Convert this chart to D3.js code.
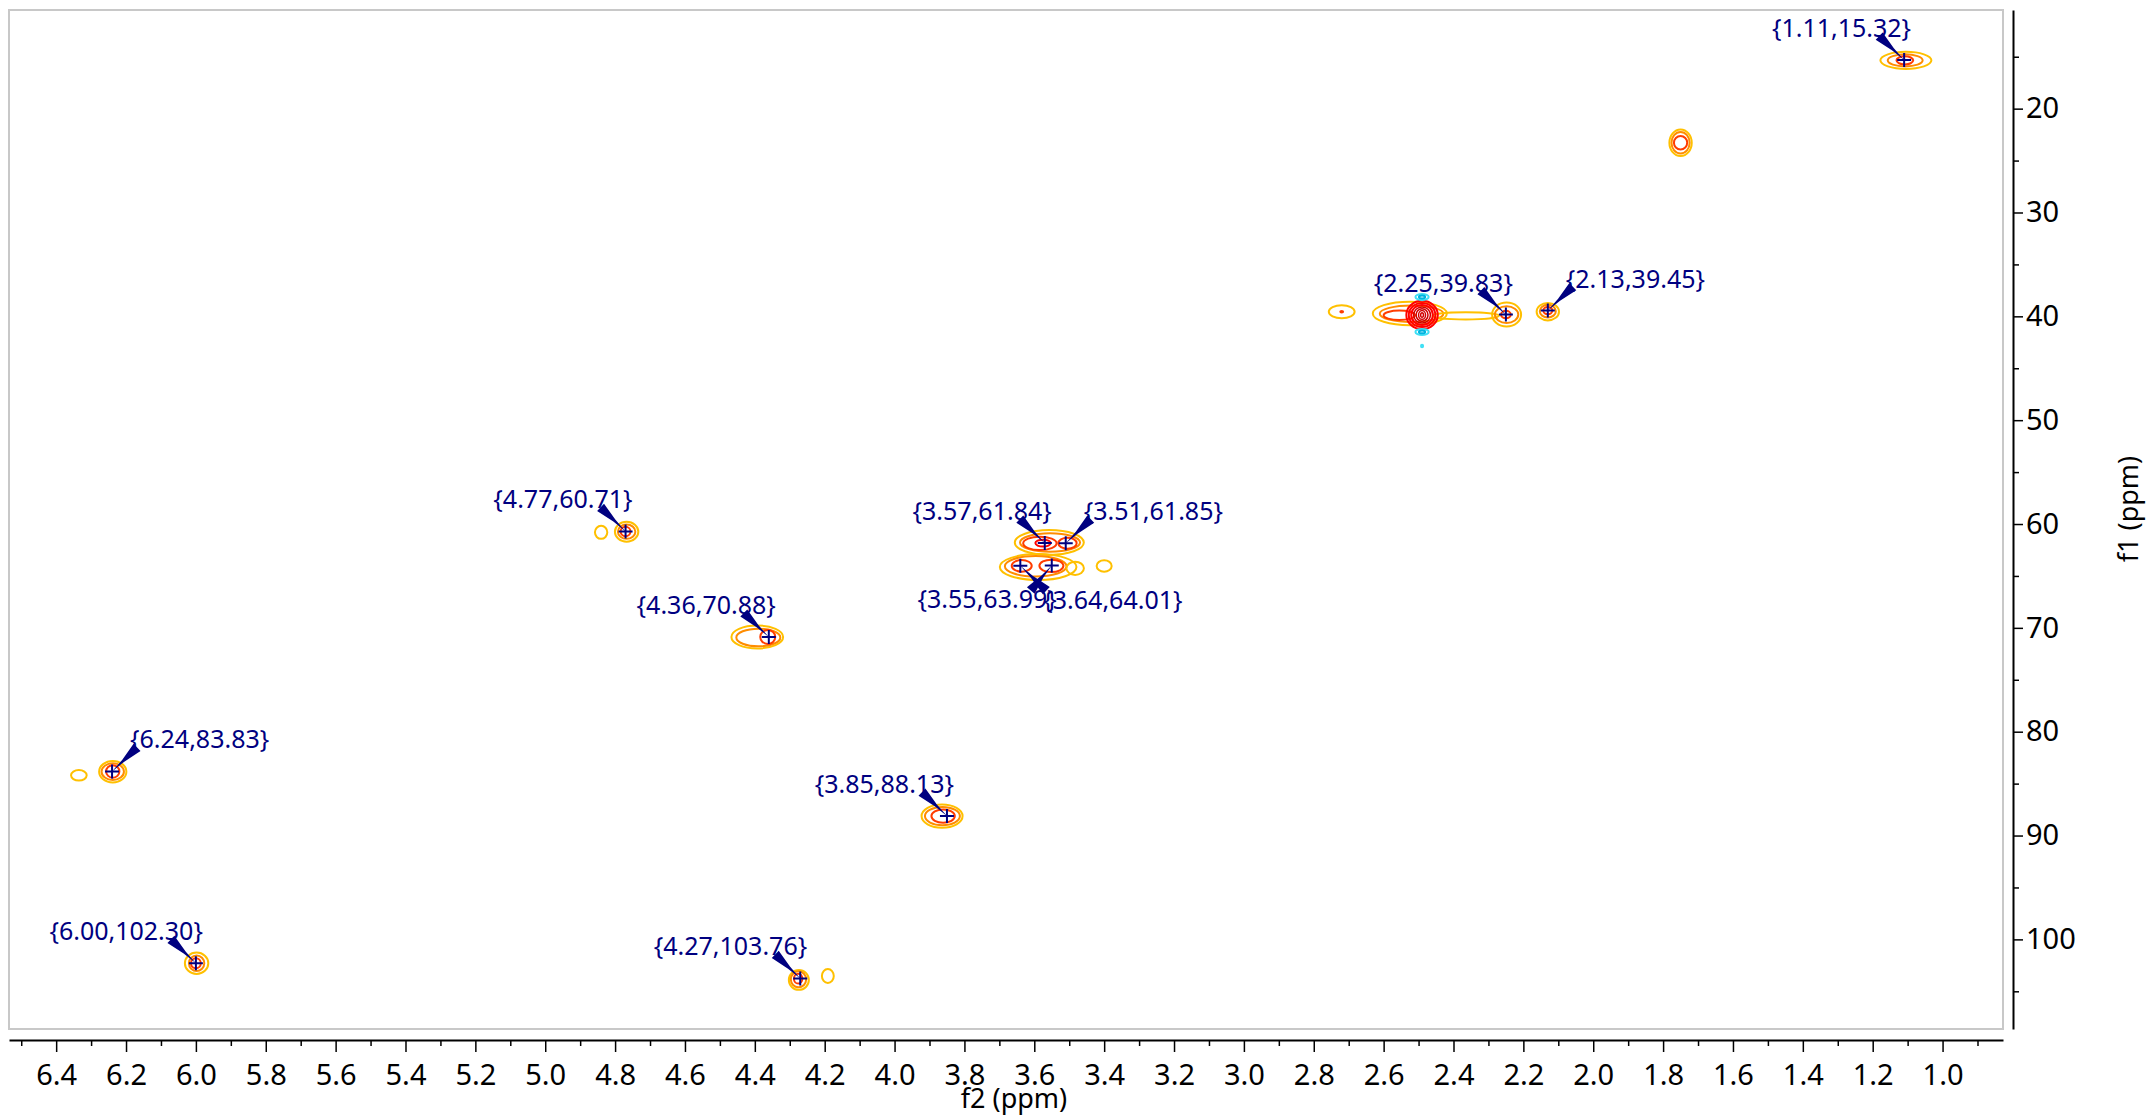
<!DOCTYPE html>
<html><head><meta charset="utf-8">
<script src="https://cdn.jsdelivr.net/npm/d3@7"></script>
<style>
html,body{margin:0;padding:0;background:#fff;overflow:hidden}
svg{display:block}
</style></head><body>
<svg id="chart" width="2149" height="1118"></svg>
<script>
// ---------- DATA ----------
const xMajorTicks = [6.4,6.2,6.0,5.8,5.6,5.4,5.2,5.0,4.8,4.6,4.4,4.2,4.0,3.8,3.6,3.4,3.2,3.0,2.8,2.6,2.4,2.2,2.0,1.8,1.6,1.4,1.2,1.0];
const xTickLabels = ["6.4","6.2","6.0","5.8","5.6","5.4","5.2","5.0","4.8","4.6","4.4","4.2","4.0","3.8","3.6","3.4","3.2","3.0","2.8","2.6","2.4","2.2","2.0","1.8","1.6","1.4","1.2","1.0"];
const xMinorTicks = [6.5,6.3,6.1,5.9,5.7,5.5,5.3,5.1,4.9,4.7,4.5,4.3,4.1,3.9,3.7,3.5,3.3,3.1,2.9,2.7,2.5,2.3,2.1,1.9,1.7,1.5,1.3,1.1,0.9];
const yMajorTicks = [20,30,40,50,60,70,80,90,100];
const yTickLabels = ["20","30","40","50","60","70","80","90","100"];
const yMinorTicks = [15,25,35,45,55,65,75,85,95,105];
const xTitle = "f2 (ppm)";
const yTitle = "f1 (ppm)";

// picked peaks (f2, f1) and where their labels sit
const peakF2 = [1.11, 2.25, 2.13, 4.77, 3.57, 3.51, 3.55, 3.64, 4.36, 6.24, 3.85, 6.00, 4.27];
const peakF1 = [15.32, 39.83, 39.45, 60.71, 61.84, 61.85, 63.99, 64.01, 70.88, 83.83, 88.13, 102.30, 103.76];
const labelSide = ["UL","UL","UR","UL","UL","UR","DL","DR","UL","UR","UL","UL","UL"];

// contour rings: [f2 centre, f1 centre, f2 half-width, f1 half-width, level]
const contourRings = [
  [1.105,15.35,0.073,0.82,0],[1.107,15.35,0.050,0.58,1],[1.108,15.35,0.024,0.39,2],
  [1.75,23.28,0.032,1.28,0],[1.75,23.28,0.026,1.03,1],[1.75,23.28,0.019,0.65,2],
  [2.525,39.72,0.106,1.13,0],[2.52,39.75,0.091,0.80,1],[2.555,39.9,0.045,0.45,2],
  [2.365,39.95,0.095,0.35,0],
  [2.49,39.87,0.045,1.36,3],[2.49,39.87,0.038,1.16,3],[2.49,39.87,0.031,0.97,3],[2.49,39.87,0.024,0.78,4],
  [2.49,39.87,0.017,0.60,4],[2.49,39.87,0.010,0.42,4],[2.49,39.87,0.004,0.22,4],
  [2.49,38.14,0.019,0.29,5],[2.49,38.14,0.009,0.14,6],[2.49,41.5,0.019,0.29,5],[2.49,41.5,0.009,0.14,6],[2.49,42.86,0.003,0.12,5],
  [2.72,39.56,0.037,0.63,0],[2.72,39.56,0.004,0.08,2],
  [2.248,39.83,0.0415,1.16,0],[2.248,39.83,0.0335,0.80,1],[2.25,39.83,0.014,0.36,2],
  [2.13,39.55,0.032,0.84,0],[2.13,39.5,0.023,0.61,1],[2.13,39.45,0.013,0.36,2],
  [4.767,60.74,0.0335,0.96,0],[4.767,60.74,0.025,0.69,1],[4.77,60.72,0.014,0.45,2],
  [4.84,60.80,0.0177,0.63,0],
  [4.393,70.88,0.074,1.11,0],[4.39,70.93,0.063,0.85,1],[4.363,70.88,0.0215,0.67,2],
  [3.864,88.13,0.0587,1.12,0],[3.863,88.13,0.05,0.88,1],[3.861,88.13,0.0335,0.64,2],
  [4.274,103.9,0.0286,0.96,0],[4.275,103.85,0.022,0.77,1],[4.276,103.78,0.012,0.48,2],
  [4.191,103.53,0.017,0.67,0],
  [6.238,83.85,0.039,1.03,0],[6.238,83.85,0.032,0.80,1],[6.238,83.83,0.019,0.60,2],
  [6.335,84.2,0.0224,0.51,0],
  [5.998,102.3,0.0335,1.03,0],[5.998,102.3,0.022,0.75,1],[6.0,102.3,0.014,0.48,2],
  [3.557,61.78,0.0988,1.20,0],[3.555,61.78,0.0859,0.886,1],[3.584,61.86,0.0478,0.645,2],[3.505,61.85,0.0263,0.53,2],
  [3.575,61.84,0.022,0.33,3],
  [3.589,64.14,0.1097,1.25,0],[3.596,64.07,0.0882,0.99,1],[3.636,64.03,0.0286,0.56,2],[3.551,64.03,0.0344,0.60,2],
  [3.483,64.27,0.025,0.64,0],[3.40,64.04,0.0215,0.56,0]
];
const levelColors = ["#FFC000","#FF8C00","#FF3C00","#FF0000","#D00000","#40E0F5","#00B4E0"];
const levelWidths = [2,2,2,2,1.5,2,2];

// ---------- LAYOUT ----------
const svg = d3.select("#chart");
const FONT = "'Noto Sans', 'DejaVu Sans', sans-serif";
const x = d3.scaleLinear().domain([6.535, 0.827]).range([9, 2003]);
const y = d3.scaleLinear().domain([10.5, 108.63]).range([10, 1029]);

svg.append("rect").attr("x",0).attr("y",0).attr("width",2149).attr("height",1118).attr("fill","#fff");

svg.append("defs").append("clipPath").attr("id","plotclip")
  .append("rect").attr("x",9).attr("y",10).attr("width",1994).attr("height",1019);

// frame
svg.append("rect").attr("x",9).attr("y",10).attr("width",1994).attr("height",1019)
  .attr("fill","none").attr("stroke","#c8c8c8").attr("stroke-width",2);

// contours
const gC = svg.append("g").attr("clip-path","url(#plotclip)");
gC.selectAll("ellipse").data(contourRings).join("ellipse")
  .attr("cx", d => x(d[0]))
  .attr("cy", d => y(d[1]))
  .attr("rx", d => Math.abs(x(d[0]+d[2]) - x(d[0])))
  .attr("ry", d => Math.abs(y(d[1]+d[3]) - y(d[1])))
  .attr("fill","none")
  .attr("stroke", d => levelColors[d[4]])
  .attr("stroke-width", d => levelWidths[d[4]]);

// x axis
const gx = svg.append("g").attr("transform","translate(0,1040)");
gx.call(d3.axisBottom(x).tickValues(xMajorTicks).tickSize(12).tickPadding(12).tickSizeOuter(0)
  .tickFormat((d,i) => xTickLabels[i]));
gx.select(".domain").attr("stroke","#000").attr("stroke-width",2);
gx.selectAll(".tick line").attr("stroke","#000").attr("stroke-width",1.5);
gx.selectAll(".tick text").attr("font-family",FONT).attr("font-size",29).attr("fill","#000");
const gxm = svg.append("g").attr("transform","translate(0,1040)");
gxm.call(d3.axisBottom(x).tickValues(xMinorTicks).tickSize(6).tickSizeOuter(0).tickFormat(""));
gxm.select(".domain").remove();
gxm.selectAll(".tick line").attr("stroke","#000").attr("stroke-width",1.5);

// y axis
const gy = svg.append("g").attr("transform","translate(2013,0)");
gy.call(d3.axisRight(y).tickValues(yMajorTicks).tickSize(10).tickPadding(3).tickSizeOuter(0)
  .tickFormat((d,i) => yTickLabels[i]));
gy.select(".domain").attr("stroke","#000").attr("stroke-width",2);
gy.selectAll(".tick line").attr("stroke","#000").attr("stroke-width",1.5);
gy.selectAll(".tick text").attr("font-family",FONT).attr("font-size",29).attr("fill","#000");
const gym = svg.append("g").attr("transform","translate(2013,0)");
gym.call(d3.axisRight(y).tickValues(yMinorTicks).tickSize(6).tickSizeOuter(0).tickFormat(""));
gym.select(".domain").remove();
gym.selectAll(".tick line").attr("stroke","#000").attr("stroke-width",1.5);

// axis titles
svg.append("text").attr("x",1014).attr("y",1108).attr("text-anchor","middle")
  .attr("font-family",FONT).attr("font-size",27).attr("fill","#000").text(xTitle);
svg.append("text").attr("transform","translate(2127,509) rotate(-90)").attr("text-anchor","middle")
  .attr("dominant-baseline","central")
  .attr("font-family",FONT).attr("font-size",27).attr("fill","#000").text(yTitle);

// peak picks
const NAVY = "#000080";
const peaks = peakF2.map((f2,i) => ({f2, f1: peakF1[i], side: labelSide[i]}));
function layout(side, px, py){
  switch(side){
    case "UL": return {tx:px+7,  ty:py-23, anchor:"end",   sx:px-25, sy:py-24};
    case "UR": return {tx:px+18, ty:py-23, anchor:"start", sx:px+25, sy:py-24};
    case "DL": return {tx:px+5,  ty:py+43, anchor:"end",   sx:px-21, sy:py+25};
    default:   return {tx:px+23, ty:py+43, anchor:"start", sx:px+26, sy:py+25};
  }
}
function wedge(sx,sy,px,py){
  const dx=px-sx, dy=py-sy, L=Math.hypot(dx,dy), nx=-dy/L, ny=dx/L;
  const mx=sx+dx*0.55, my=sy+dy*0.55;
  return [[sx+nx*5,sy+ny*5],[mx+nx*1.4,my+ny*1.4],[px,py],[mx-nx*1.4,my-ny*1.4],[sx-nx*5,sy-ny*5]];
}
const gP = svg.append("g");
peaks.forEach(p => {
  const px = x(p.f2), py = y(p.f1);
  const L = layout(p.side, px, py);
  gP.append("path").attr("d", d3.line()(wedge(L.sx,L.sy,px,py)) + "Z").attr("fill",NAVY);
  gP.append("path").attr("d", `M${px-7},${py}H${px+7}M${px},${py-7}V${py+7}`)
    .attr("stroke",NAVY).attr("stroke-width",2).attr("fill","none");
});
peaks.forEach(p => {
  const px = x(p.f2), py = y(p.f1);
  const L = layout(p.side, px, py);
  gP.append("text").attr("x",L.tx).attr("y",L.ty).attr("text-anchor",L.anchor)
    .attr("font-family",FONT).attr("font-size",25).attr("fill",NAVY)
    .text(`{${p.f2.toFixed(2)},${p.f1.toFixed(2)}}`);
});
</script>
</body></html>
